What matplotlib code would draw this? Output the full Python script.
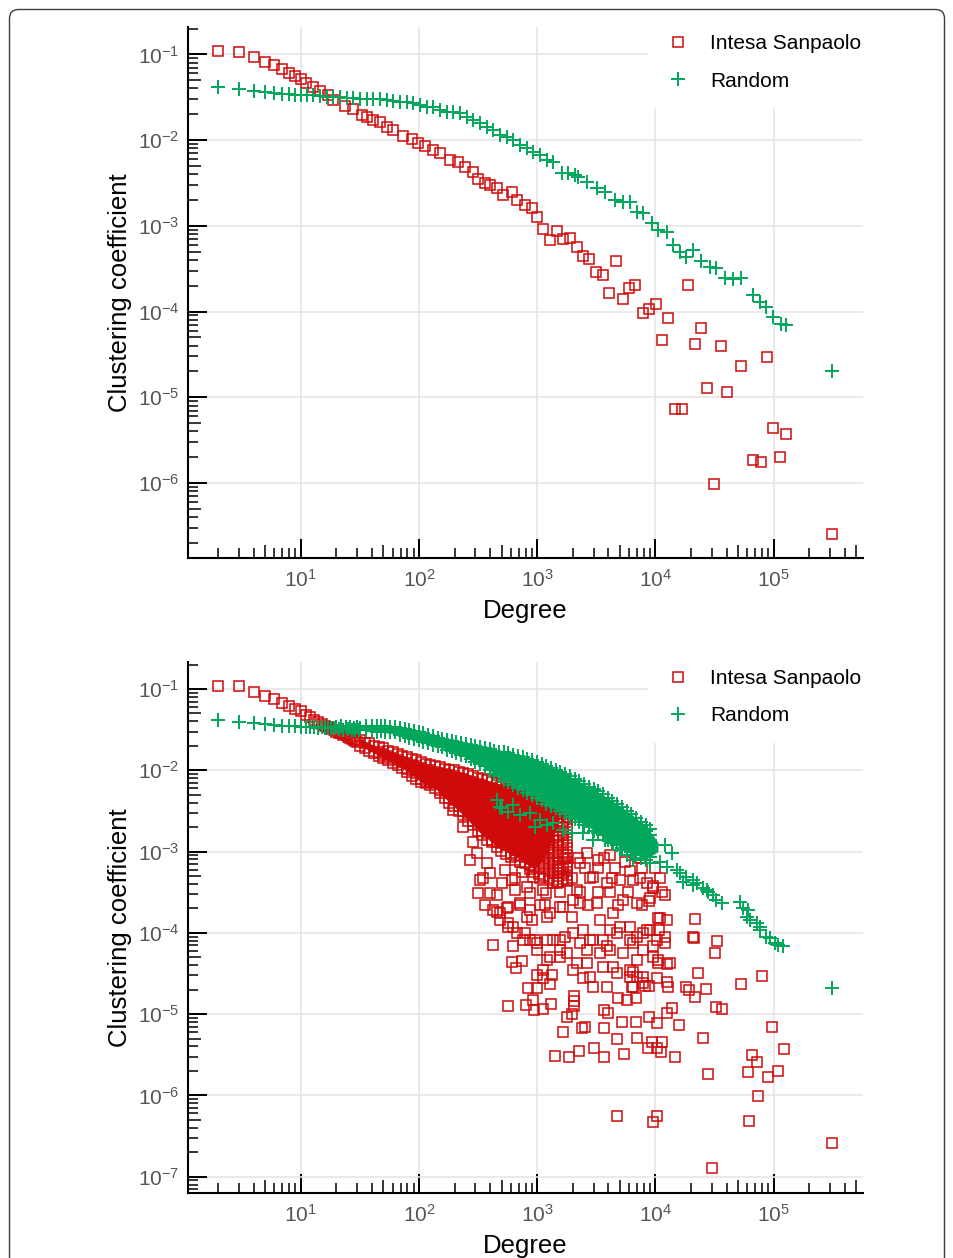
import matplotlib
matplotlib.use('Agg')
import matplotlib.pyplot as plt
from matplotlib import font_manager
from matplotlib.ticker import LogLocator, FixedLocator, LogFormatterMathtext, NullFormatter
from matplotlib.patches import FancyBboxPatch
from matplotlib.transforms import IdentityTransform

# ---------------------------------------------------------------- fonts
installed = {f.name for f in font_manager.fontManager.ttflist}
tick_font = 'Liberation Sans Narrow' if 'Liberation Sans Narrow' in installed else 'Liberation Sans'
tick_size = 17.5 if tick_font == 'Liberation Sans Narrow' else 15

plt.rcParams['font.family'] = ['Liberation Sans', 'DejaVu Sans']
plt.rcParams['mathtext.fontset'] = 'custom'
plt.rcParams['mathtext.rm'] = tick_font
plt.rcParams['mathtext.it'] = tick_font
plt.rcParams['mathtext.bf'] = tick_font
plt.rcParams['mathtext.sf'] = tick_font
plt.rcParams['mathtext.default'] = 'rm'

RED = '#cf0a0a'
GREEN = '#00a75b'

# ---------------------------------------------------------------- data, top panel (binned)
red1_deg = [2, 3, 4, 5, 6, 7, 8, 9, 10, 11, 12.8, 14.6, 17.1, 18.9, 23.7, 27.8, 32.8, 36.1, 41.1, 46.8,
            53.3, 60.7, 73.7, 86.7, 98.7, 112, 132, 150, 183, 215, 245, 288, 317, 361, 398, 454, 516, 608,
            670, 787, 897, 989, 1125, 1280, 1458, 1660, 1890, 2150, 2450, 2750, 3135, 3570, 4065, 4630,
            5270, 6000, 6700, 7780, 8850, 10080, 11270, 12800, 14600, 16630, 18900, 21550, 24500, 27500,
            31300, 35700, 40400, 52700, 67000, 77800, 87500, 98900, 112700, 128000, 314000]
red1_cc = [0.109, 0.107, 0.094, 0.082, 0.075, 0.067, 0.061, 0.056, 0.051, 0.046, 0.042, 0.037, 0.0335,
           0.029, 0.0249, 0.0228, 0.0196, 0.0184, 0.0171, 0.0164, 0.0141, 0.0131, 0.0111, 0.0102, 0.0093,
           0.0085, 0.0076, 0.0070, 0.00585, 0.00558, 0.00489, 0.00427, 0.00348, 0.00318, 0.00299,
           0.00278, 0.00228, 0.00245, 0.00200, 0.00175, 0.00160, 0.00127, 0.00093, 0.00069, 0.00087,
           0.00071, 0.00073, 0.00057, 4.43e-4, 4.12e-4, 2.86e-4, 2.66e-4, 1.63e-4, 3.91e-4, 1.41e-4,
           1.86e-4, 2.03e-4, 9.5e-5, 1.06e-4, 1.22e-4, 4.63e-5, 8.4e-5, 7.26e-6, 7.26e-6, 2.03e-4,
           4.17e-5, 6.4e-5, 1.27e-5, 9.7e-7, 3.95e-5, 1.14e-5, 2.32e-5, 1.83e-6, 1.76e-6, 2.94e-5,
           4.33e-6, 1.99e-6, 3.68e-6, 2.52e-7]

green1_deg = [2, 3, 4, 5, 6, 7, 8, 9, 10, 11.2, 12.8, 14.6, 16.6, 18.9, 21.5, 24.5, 27.8, 31.7, 36.1,
              41.1, 46.8, 53.3, 60.7, 69.1, 78.7, 89.6, 102, 116, 132, 150, 171, 195, 222, 253, 288,
              328, 373, 425, 484, 551, 627, 714, 812, 925, 1053, 1200, 1365, 1610, 1830, 2085, 2225,
              2620, 3180, 3730, 4540, 5330, 6080, 6920, 7880, 9270, 10550, 12400, 14130, 16080, 18300,
              20800, 24500, 28800, 32800, 38600, 45400, 53400, 67000, 76300, 86900, 98900, 116000,
              128000, 314000]
green1_cc = [0.0419, 0.0394, 0.0376, 0.0366, 0.0356, 0.0344, 0.0342, 0.034, 0.0335, 0.0335, 0.0335,
             0.0326, 0.0321, 0.0315, 0.0315, 0.0309, 0.0306, 0.0303, 0.0301, 0.0298, 0.0298, 0.0293,
             0.0287, 0.0280, 0.0275, 0.0268, 0.0256, 0.0245, 0.0241, 0.0224, 0.0214, 0.0214, 0.0205,
             0.0187, 0.0171, 0.0157, 0.0143, 0.0131, 0.0114, 0.0109, 0.0100, 0.0088, 0.0080, 0.0073,
             0.0067, 0.0058, 0.0056, 0.0041, 0.0041, 0.0039, 0.00373, 0.00326, 0.00273, 0.00249,
             0.00200, 0.00191, 0.00191, 0.00146, 0.00140, 0.00107, 0.00089, 0.00085, 0.00060, 0.00050,
             4.35e-4, 5.2e-4, 3.9e-4, 3.33e-4, 3.18e-4, 2.43e-4, 2.37e-4, 2.43e-4, 1.56e-4, 1.30e-4,
             1.13e-4, 8.7e-5, 7.1e-5, 6.9e-5, 2.03e-5]

# ---------------------------------------------------------------- data, bottom panel (all nodes)
red2_line_deg = list(range(2, 31))
red2_line_cc = [0.110, 0.109, 0.093, 0.083, 0.075, 0.068, 0.061, 0.056, 0.053, 0.048, 0.045, 0.042,
                0.039, 0.037, 0.035, 0.034, 0.032, 0.031, 0.030, 0.029, 0.0285, 0.027, 0.0272, 0.0258,
                0.025, 0.0245, 0.0238, 0.023, 0.0225]

# dense band: values read column by column
red2_band_deg = [32, 35, 38, 42, 46, 50, 55, 60, 66, 72, 79, 87, 95, 104, 114, 125, 137, 150, 165, 181,
                 198, 217, 238, 261, 286, 314, 344, 377, 413, 453, 497, 545, 597, 655, 718, 787, 863,
                 946, 1037, 1137, 1247, 1367, 1500, 1645, 1800]
red2_band_cc = [
    [0.0234, 0.0200],
    [0.0219, 0.0186],
    [0.0214, 0.0174],
    [0.0200, 0.0162],
    [0.0195, 0.0166, 0.0148],
    [0.0186, 0.0158, 0.0141],
    [0.0174, 0.0148, 0.0132],
    [0.0166, 0.0141, 0.0123],
    [0.0158, 0.0135, 0.0115],
    [0.0151, 0.0126, 0.0107],
    [0.0145, 0.0123, 0.0105, 0.0095],
    [0.0138, 0.0117, 0.0100, 0.0085],
    [0.0132, 0.0112, 0.0093, 0.0079],
    [0.0126, 0.0107, 0.0091, 0.0078, 0.0072],
    [0.0120, 0.0102, 0.0087, 0.0074, 0.0069],
    [0.0117, 0.0100, 0.0085, 0.0072, 0.0066],
    [0.0112, 0.0095, 0.0081, 0.0069, 0.0060],
    [0.0110, 0.0093, 0.0079, 0.0068, 0.0058, 0.0052],
    [0.0105, 0.0089, 0.0076, 0.0065, 0.0055, 0.0046],
    [0.0102, 0.0087, 0.0074, 0.0063, 0.0054, 0.0046, 0.0040],
    [0.0100, 0.0085, 0.0072, 0.0062, 0.0052, 0.0044, 0.0036],
    [0.0095, 0.0081, 0.0069, 0.0059, 0.0050, 0.0043, 0.0036, 0.0032],
    [0.0093, 0.0079, 0.0066, 0.0056, 0.0047, 0.0039, 0.0032, 0.0028],
    [0.0089, 0.0074, 0.0062, 0.0051, 0.0043, 0.0035, 0.0030, 0.0024],
    [0.0085, 0.0071, 0.0059, 0.0049, 0.0041, 0.0034, 0.0028, 0.0024, 0.0021],
    [0.0081, 0.0068, 0.0056, 0.0047, 0.0039, 0.0032, 0.0027, 0.0022, 0.0018],
    [0.0078, 0.0065, 0.0054, 0.0045, 0.0037, 0.0031, 0.0026, 0.0021, 0.0018, 0.0016],
    [0.0076, 0.0063, 0.0052, 0.0044, 0.0036, 0.0030, 0.0025, 0.0021, 0.0017, 0.0014],
    [0.0072, 0.0060, 0.0050, 0.0042, 0.0035, 0.0029, 0.0024, 0.0020, 0.0017, 0.0014, 0.0013],
    [0.0069, 0.0058, 0.0048, 0.0040, 0.0033, 0.0028, 0.0023, 0.0019, 0.0016, 0.0013, 0.00115],
    [0.0066, 0.0055, 0.0046, 0.0038, 0.0032, 0.0026, 0.0022, 0.0018, 0.0015, 0.00126, 0.00102],
    [0.0065, 0.0054, 0.0045, 0.0037, 0.0031, 0.0026, 0.0021, 0.0018, 0.0015, 0.0012, 0.00093],
    [0.0061, 0.0051, 0.0042, 0.0035, 0.0029, 0.0024, 0.0020, 0.0017, 0.0014, 0.00115, 0.00095, 0.00086],
    [0.0059, 0.0049, 0.0041, 0.0034, 0.0028, 0.0023, 0.0019, 0.0016, 0.0013, 0.0011, 0.00092, 0.00079],
    [0.0057, 0.0048, 0.0040, 0.0033, 0.0027, 0.0023, 0.0019, 0.0016, 0.0013, 0.0011, 0.00089, 0.00075],
    [0.0055, 0.0046, 0.0038, 0.0032, 0.0026, 0.0022, 0.0018, 0.0015, 0.00125, 0.00104, 0.00086, 0.00072],
    [0.0053, 0.0044, 0.0037, 0.0031, 0.0025, 0.0021, 0.0018, 0.0015, 0.0012, 0.0010, 0.00083, 0.00069,
     0.00061],
    [0.0050, 0.0042, 0.0035, 0.0029, 0.0024, 0.0020, 0.0017, 0.0014, 0.0012, 0.00097, 0.00081, 0.00067,
     0.00056],
    [0.0048, 0.0040, 0.0033, 0.0028, 0.0023, 0.0019, 0.0016, 0.0013, 0.0011, 0.00092, 0.00077, 0.00064,
     0.00053],
    [0.0046, 0.0038, 0.0032, 0.0026, 0.0022, 0.0018, 0.0015, 0.0013, 0.00105, 0.00088, 0.00073, 0.00061,
     0.00050],
    [0.0043, 0.0036, 0.0030, 0.0025, 0.0021, 0.0017, 0.0014, 0.0012, 0.0010, 0.00084, 0.00070, 0.00058,
     0.00047],
    [0.0041, 0.0034, 0.0028, 0.0024, 0.0020, 0.0016, 0.0014, 0.0011, 0.00095, 0.00079, 0.00066, 0.00055,
     0.00045],
    [0.0037, 0.0031, 0.0026, 0.0022, 0.0018, 0.0015, 0.0012, 0.0010, 0.00087, 0.00072, 0.00060, 0.00050,
     0.00042],
    [0.0035, 0.0029, 0.0024, 0.0020, 0.0017, 0.0014, 0.0012, 0.00096, 0.00080, 0.00066, 0.00055, 0.00046],
    [0.0033, 0.0027, 0.0023, 0.0019, 0.0016, 0.0013, 0.0011, 0.00090, 0.00075, 0.00062, 0.00052, 0.00043],
]

# region where the overlapping squares merge into solid colour: degree, lower and upper bound
red2_core_deg = [32, 50, 72, 104, 137, 181, 238, 314, 413, 545, 718, 946, 1137, 1367, 1600]
red2_core_lo = [0.0200, 0.0141, 0.0107, 0.0072, 0.0060, 0.0040, 0.0028, 0.0018, 0.0013, 0.0010,
                0.00080, 0.00062, 0.00080, 0.0015, 0.0030]
red2_core_hi = [0.0234, 0.0186, 0.0151, 0.0126, 0.0112, 0.0102, 0.0093, 0.0081, 0.0072, 0.0065,
                0.0057, 0.0050, 0.0046, 0.0041, 0.0036]

# scattered nodes around and below the band (degree, clustering)
red2_scatter = [
    (237, 2.02e-3), (288, 1.32e-3), (308, 9.5e-4), (373, 7.2e-4), (398, 5.4e-4), (500, 4.1e-4),
    (454, 1.82e-4), (569, 1.31e-4), (714, 2.31e-4), (670, 9.9e-5), (762, 8.2e-5), (989, 7.4e-5),
    (420, 7.0e-5), (565, 2.1e-4), (813, 1.58e-4), (195, 3.25e-3), (253, 3.74e-3), (425, 1.91e-4),
    (484, 1.74e-4), (627, 6.8e-5), (867, 8.2e-5), (1280, 1.74e-4), (1556, 2.1e-4), (2014, 2.54e-4),
    (813, 3.7e-4), (925, 4.9e-4), (1125, 3.37e-4), (1365, 4.1e-4), (1773, 4.5e-4), (2153, 3.37e-4),
    (2618, 9.5e-4), (3281, 7.9e-4), (4121, 9.1e-4), (5508, 7.5e-4), (6081, 5.7e-4), (9570, 3.54e-4),
    (12000, 2.92e-4), (21500, 1.47e-4), (20800, 8.8e-5), (33200, 8.0e-5), (31800, 5.6e-5),
    (2296, 7.2e-4), (2972, 4.9e-4), (3864, 4.1e-4), (5000, 4.5e-4), (6486, 4.5e-4), (8414, 4.1e-4),
    (5333, 2.54e-4), (6918, 2.31e-4), (8974, 2.67e-4), (10900, 1.51e-4), (12420, 1.44e-4),
    (4385, 1.74e-4), (6081, 1.19e-4), (7870, 9.9e-5), (10210, 8.2e-5), (12000, 7.4e-5), (1200, 8.2e-5),
    (1556, 6.2e-5), (2014, 9.9e-5), (2618, 6.2e-5), (3614, 8.2e-5), (4121, 6.2e-5), (6486, 7.4e-5),
    (9570, 6.8e-5), (10540, 4.2e-5), (13240, 4.2e-5), (867, 1.91e-4), (551, 2.0e-4), (627, 1.19e-4),
    (1200, 1.58e-4), (1660, 2.1e-4), (1954, 1.58e-4), (2296, 2.31e-4), (3177, 2.31e-4), (1459, 4.1e-4),
    (1773, 6.5e-4), (608, 4.4e-5), (738, 4.5e-5), (661, 3.67e-5), (569, 1.26e-5), (798, 1.30e-5),
    (938, 1.13e-5), (1111, 1.16e-5), (1306, 1.33e-5), (925, 1.50e-5), (830, 2.08e-5), (989, 2.08e-5),
    (1280, 2.35e-5), (989, 3.03e-5), (1125, 2.77e-5), (1324, 3.03e-5), (1773, 9.3e-6), (1954, 1.0e-5),
    (2055, 1.67e-5), (2055, 1.45e-5), (2055, 1.26e-5), (1640, 6.0e-6), (2373, 6.7e-6), (2530, 7.0e-6),
    (1412, 3.06e-6), (1865, 3.0e-6), (2265, 3.56e-6), (3013, 3.87e-6), (3683, 3.0e-6), (5433, 3.24e-6),
    (3664, 6.8e-6), (5164, 7.9e-6), (6792, 8.1e-6), (4690, 4.9e-6), (7000, 5.1e-6), (8850, 9.2e-6),
    (8670, 3.8e-6), (10210, 3.8e-6), (4745, 5.6e-7), (10210, 5.5e-7), (12420, 1.03e-5),
    (13680, 1.18e-5), (15670, 7.4e-6), (10210, 7.7e-6), (9380, 4.5e-6), (11270, 4.5e-6),
    (11040, 3.4e-6), (14590, 3.0e-6), (9450, 4.7e-7), (25300, 5.1e-6), (27900, 1.84e-6),
    (29800, 1.27e-7), (21200, 8.6e-5), (23100, 3.2e-5), (52400, 2.35e-5), (78900, 2.95e-5),
    (18300, 2.18e-5), (19150, 1.99e-5), (26500, 2.04e-5), (21500, 1.64e-5), (32400, 1.24e-5),
    (36200, 1.15e-5), (97000, 7.0e-6), (121700, 3.7e-6), (64900, 3.15e-6), (72400, 2.6e-6),
    (60800, 1.93e-6), (89700, 1.70e-6), (108900, 2.0e-6), (73800, 9.9e-7), (61600, 4.9e-7),
    (314000, 2.58e-7), (8790, 2.49e-4), (9450, 3.78e-4), (10540, 1.51e-4), (10740, 1.09e-4),
    (12000, 9.0e-5), (10420, 4.6e-5), (12480, 4.1e-5), (10210, 2.77e-5), (12420, 2.51e-5),
    (12800, 2.18e-5), (8130, 2.22e-5), (8850, 2.22e-5), (6280, 2.18e-5), (7870, 2.44e-5),
    (6486, 3.33e-5), (6918, 2.89e-5), (4840, 1.57e-5), (5700, 1.50e-5), (6830, 1.57e-5),
    (3683, 1.13e-5), (3981, 1.03e-5), (2449, 1.09e-4), (2790, 8.2e-5), (3388, 1.44e-4), (3864, 6.8e-5),
    (4690, 9.9e-5), (5333, 5.6e-5), (6081, 8.2e-5), (6918, 4.6e-5), (7870, 6.2e-5), (8974, 1.09e-4),
    (3614, 3.84e-5), (4690, 3.2e-5), (6081, 2.89e-5), (2790, 2.89e-5), (2153, 4.2e-5), (1773, 5.6e-5),
    (1556, 8.2e-5), (1280, 5.1e-5), (1125, 3.5e-5), (569, 1.19e-4), (787, 9.9e-5), (957, 8.2e-5),
    (989, 6.2e-5), (1365, 8.2e-5), (1714, 9.0e-5), (2296, 7.4e-5), (2972, 8.2e-5), (4121, 1.09e-4),
    (5000, 1.19e-4), (6918, 9.0e-5), (8414, 1.09e-4), (1200, 4.6e-5), (1556, 5.1e-5), (2014, 3.5e-5),
    (2618, 4.2e-5), (3388, 5.6e-5), (4385, 3.84e-5), (6081, 3.5e-5), (7870, 2.89e-5), (9570, 5.1e-5),
    (2449, 2.77e-5), (2972, 2.18e-5), (3864, 2.18e-5), (6486, 2.18e-5), (270, 7.9e-4), (328, 4.5e-4),
    (456, 2.92e-4), (533, 5.9e-4), (647, 3.37e-4), (1055, 2.2e-4), (611, 4.5e-4), (743, 5.6e-4),
    (1714, 8.3e-4), (2208, 8.3e-4), (3664, 8.3e-4), (7379, 8.3e-4), (1556, 6.3e-4), (2531, 6.3e-4),
    (3258, 6.3e-4), (4539, 6.3e-4), (7674, 6.3e-4), (9886, 6.3e-4), (1964, 4.7e-4), (2787, 4.7e-4),
    (4285, 4.7e-4), (7379, 4.7e-4), (10890, 4.7e-4), (1556, 3.2e-4), (2296, 3.2e-4), (3258, 3.2e-4),
    (4121, 3.2e-4), (5848, 3.2e-4), (11330, 3.2e-4), (2685, 2.2e-4), (4808, 2.2e-4), (7674, 2.2e-4),
    (348, 4.7e-4), (648, 4.7e-4), (1055, 4.7e-4), (315, 3.1e-4), (398, 3.1e-4), (867, 3.1e-4),
    (1186, 3.1e-4), (361, 2.2e-4), (714, 2.2e-4), (1161, 2.2e-4), (483, 1.44e-4), (902, 1.44e-4),
]

green2_line_deg = list(range(2, 33))
green2_line_cc = [0.0416, 0.0396, 0.0379, 0.0371, 0.0361, 0.0354, 0.0351, 0.0348, 0.0344, 0.0345,
                  0.034, 0.0342, 0.0336, 0.0338, 0.0333, 0.0336, 0.033, 0.0334, 0.034, 0.032, 0.035,
                  0.031, 0.034, 0.032, 0.0345, 0.031, 0.0335, 0.0315, 0.034, 0.031, 0.033]

green2_band_deg = [36, 40, 44, 48, 52, 57, 63, 69, 76, 83, 91, 100, 109, 120, 131, 144, 157, 173, 189,
                   207, 227, 249, 273, 300, 329, 360, 395, 433, 475, 521, 571, 626, 686, 752, 825, 905,
                   992, 1088, 1193, 1308, 1434, 1572, 1724, 1890, 2072, 2272, 2491, 2731, 2994, 3283,
                   3600, 3947, 4328, 4745, 5200, 5700, 6250, 6850, 7500, 8250, 9050]
green2_band_cc = [
    [0.0355, 0.0310],
    [0.0352, 0.0305],
    [0.0350, 0.0300],
    [0.0348, 0.0302],
    [0.0346, 0.0300],
    [0.0343, 0.0297],
    [0.0340, 0.0293],
    [0.0335, 0.0305, 0.0275],
    [0.0322, 0.0290, 0.0262],
    [0.0313, 0.0283, 0.0253],
    [0.0304, 0.0272, 0.0243],
    [0.0296, 0.0265, 0.0233],
    [0.0284, 0.0255, 0.0226],
    [0.0272, 0.0245, 0.0219],
    [0.0261, 0.0236, 0.0207],
    [0.0250, 0.0225, 0.0199],
    [0.0243, 0.0216, 0.0191],
    [0.0236, 0.0209, 0.0180],
    [0.0229, 0.0200, 0.0173],
    [0.0223, 0.0193, 0.0163],
    [0.0217, 0.0184, 0.0156],
    [0.0210, 0.0178, 0.0148],
    [0.0205, 0.0177, 0.0153, 0.0136],
    [0.0199, 0.0171, 0.0147, 0.0126],
    [0.0194, 0.0165, 0.0141, 0.0118],
    [0.0188, 0.0160, 0.0136, 0.0112],
    [0.0183, 0.0157, 0.0134, 0.0115, 0.0100],
    [0.0175, 0.0150, 0.0128, 0.0109, 0.0091],
    [0.0170, 0.0146, 0.0124, 0.0105, 0.0085],
    [0.0166, 0.0141, 0.0119, 0.0100, 0.0085, 0.0077],
    [0.0161, 0.0137, 0.0116, 0.0098, 0.0083, 0.0071],
    [0.0154, 0.0131, 0.0111, 0.0094, 0.0079, 0.0065],
    [0.0150, 0.0127, 0.0107, 0.0091, 0.0077, 0.0061],
    [0.0144, 0.0122, 0.0103, 0.0087, 0.0074, 0.0063, 0.0057],
    [0.0138, 0.0117, 0.0099, 0.0084, 0.0071, 0.0060, 0.0053],
    [0.0132, 0.0112, 0.0095, 0.0080, 0.0068, 0.0058, 0.0050],
    [0.0126, 0.0107, 0.0091, 0.0077, 0.0065, 0.0055, 0.0046],
    [0.0120, 0.0102, 0.0086, 0.0073, 0.0062, 0.0052, 0.0043],
    [0.0113, 0.0096, 0.0081, 0.0069, 0.0058, 0.0049, 0.0042, 0.0039],
    [0.0107, 0.0090, 0.0077, 0.0065, 0.0055, 0.0046, 0.0039, 0.0036],
    [0.0101, 0.0086, 0.0073, 0.0062, 0.0052, 0.0044, 0.0037, 0.0034],
    [0.0095, 0.0081, 0.0069, 0.0058, 0.0049, 0.0042, 0.0035, 0.0032],
    [0.0090, 0.0076, 0.0065, 0.0055, 0.0046, 0.0039, 0.0033, 0.0029],
    [0.0084, 0.0071, 0.0060, 0.0051, 0.0043, 0.0037, 0.0031, 0.0027],
    [0.0078, 0.0066, 0.0056, 0.0048, 0.0040, 0.0034, 0.0029, 0.0025],
    [0.0073, 0.0062, 0.0052, 0.0044, 0.0037, 0.0032, 0.0027, 0.0023],
    [0.0068, 0.0058, 0.0049, 0.0041, 0.0035, 0.0030, 0.0025, 0.0021],
    [0.0063, 0.0054, 0.0045, 0.0038, 0.0033, 0.0028, 0.0023, 0.0020],
    [0.0059, 0.0050, 0.0042, 0.0036, 0.0030, 0.0026, 0.0022, 0.0018],
    [0.0055, 0.0047, 0.0039, 0.0033, 0.0028, 0.0024, 0.0020, 0.0017],
    [0.0051, 0.0043, 0.0037, 0.0031, 0.0026, 0.0022, 0.0019, 0.0016],
    [0.0046, 0.0039, 0.0033, 0.0028, 0.0024, 0.0020, 0.0017, 0.0014],
    [0.0042, 0.0035, 0.0030, 0.0025, 0.0021, 0.0018, 0.0015, 0.0013],
    [0.0038, 0.0033, 0.0028, 0.0023, 0.0020, 0.0017, 0.0014, 0.0012],
    [0.0035, 0.0029, 0.0025, 0.0021, 0.0018, 0.0015, 0.0013, 0.0011],
    [0.0032, 0.0027, 0.0023, 0.0019, 0.0016, 0.0014, 0.0012, 0.00105],
    [0.0029, 0.0024, 0.0021, 0.0018, 0.0015, 0.0013, 0.0011, 0.00098],
    [0.0026, 0.0022, 0.0019, 0.0016, 0.0014, 0.0012, 0.0010, 0.00090],
    [0.0023, 0.0020, 0.0017, 0.0014, 0.0012, 0.00105, 0.00083],
    [0.0021, 0.0018, 0.0015, 0.0013, 0.0011, 0.00093, 0.00078],
    [0.0019, 0.0016, 0.0014, 0.0012, 0.0010, 0.00085, 0.00072],
]

green2_core_deg = [36, 69, 100, 144, 207, 300, 433, 626, 905, 1308, 1890, 2731, 3947, 5700, 8250, 10500]
green2_core_lo = [0.0310, 0.0275, 0.0233, 0.0199, 0.0163, 0.0126, 0.0091, 0.0065, 0.0050, 0.0036,
                  0.0027, 0.0020, 0.0014, 0.00105, 0.00080, 0.00100]
green2_core_hi = [0.0355, 0.0335, 0.0296, 0.0250, 0.0223, 0.0199, 0.0175, 0.0154, 0.0132, 0.0107,
                  0.0084, 0.0063, 0.0046, 0.0032, 0.0021, 0.0013]

green2_scatter_deg = [454, 500, 569, 484, 627, 714, 867, 957, 1055, 1200, 1365, 1660, 1954, 2449, 2972,
                      3733, 4385, 5000, 5700, 6486, 10890, 12000, 12420, 13680, 15070, 16080, 18300,
                      17140, 20800, 20800, 22250, 25300, 27040, 27900, 30740, 32800, 36200, 51650, 55100,
                      60800, 58900, 62800, 71600, 76400, 76400, 86900, 92700, 102100, 108900, 120000,
                      314000]
green2_scatter_cc = [4.3e-3, 3.41e-3, 3.1e-3, 3.56e-3, 3.74e-3, 2.82e-3, 2.96e-3, 2.02e-3, 2.45e-3,
                     2.12e-3, 2.23e-3, 1.84e-3, 1.68e-3, 1.68e-3, 1.39e-3, 1.39e-3, 1.26e-3, 1.05e-3,
                     9.1e-4, 7.9e-4, 7.5e-4, 1.21e-3, 6.5e-4, 9.5e-4, 5.9e-4, 5.4e-4, 4.9e-4, 4.27e-4,
                     4.5e-4, 3.9e-4, 4.1e-4, 3.54e-4, 3.37e-4, 3.21e-4, 2.92e-4, 2.54e-4, 2.31e-4,
                     2.42e-4, 2.02e-4, 1.91e-4, 1.58e-4, 1.44e-4, 1.31e-4, 1.18e-4, 1.09e-4, 9.0e-5,
                     8.6e-5, 7.4e-5, 7.1e-5, 6.8e-5, 2.08e-5]

x_major = [1e1, 1e2, 1e3, 1e4, 1e5]
y_major_top = [1e-6, 1e-5, 1e-4, 1e-3, 1e-2, 1e-1]
y_major_bottom = [1e-7, 1e-6, 1e-5, 1e-4, 1e-3, 1e-2, 1e-1]
x_fives = [5, 50, 500, 5e3, 5e4, 5e5]
y_fives = [5e-2, 5e-3, 5e-4, 5e-5, 5e-6, 5e-7]


def columns(deg, cols):
    xs, ys = [], []
    for d, vals in zip(deg, cols):
        xs += [d] * len(vals)
        ys += vals
    return xs, ys


band_d, band_c = columns(red2_band_deg, red2_band_cc)
red2_deg = red2_line_deg + band_d + [p[0] for p in red2_scatter]
red2_cc = red2_line_cc + band_c + [p[1] for p in red2_scatter]

gband_d, gband_c = columns(green2_band_deg, green2_band_cc)
green2_deg = green2_line_deg + gband_d + green2_scatter_deg
green2_cc = green2_line_cc + gband_c + green2_scatter_cc

SQ = dict(ls='none', marker='s', ms=7.0, mfc='none', mec=RED, mew=1.1)
PL = dict(ls='none', marker='+', ms=10.5, mec=GREEN, mew=1.4)


# ---------------------------------------------------------------- drawing
def panel(ax, rd, rc, gd, gc, ylim, y_major, red_core=None, green_core=None):
    # where thousands of nodes overlap the original shows solid colour
    if red_core is not None:
        ax.fill_between(red_core[0], red_core[1], red_core[2], color=RED, lw=0, zorder=1.9)
    ax.plot(rd, rc, label='Intesa Sanpaolo', zorder=2.0, **SQ)
    if green_core is not None:
        ax.fill_between(green_core[0], green_core[1], green_core[2], color=GREEN, lw=0, zorder=2.05)
    ax.plot(gd, gc, label='Random', zorder=2.1, **PL)

    ax.set_xscale('log')
    ax.set_yscale('log')
    ax.set_xlim(1.114, 5.69e5)
    ax.set_ylim(*ylim)

    ax.xaxis.set_major_locator(FixedLocator(x_major))
    ax.yaxis.set_major_locator(FixedLocator(y_major))
    for axis in (ax.xaxis, ax.yaxis):
        axis.set_minor_locator(LogLocator(base=10, subs=(2, 3, 4, 6, 7, 8, 9), numticks=15))
        axis.set_major_formatter(LogFormatterMathtext())
        axis.set_minor_formatter(NullFormatter())

    ax.tick_params(which='major', direction='in', length=13.7, width=1.45, color='black',
                   labelsize=tick_size, labelcolor='#555555')
    ax.tick_params(which='minor', direction='in', length=7, width=1.1, color='black')
    ax.tick_params(axis='x', pad=8)
    ax.tick_params(axis='y', pad=6)

    for s in ('top', 'right'):
        ax.spines[s].set_visible(False)
    for s in ('left', 'bottom'):
        ax.spines[s].set_linewidth(1.5)

    ax.grid(True, which='major', color='#e6e6e6', linewidth=1.2)
    ax.set_axisbelow(True)

    # slightly longer ticks at the 5 x 10^n positions
    sx = ax.secondary_xaxis('bottom')
    sx.set_ticks(x_fives)
    sx.tick_params(which='both', direction='in', labelbottom=False)
    sx.tick_params(which='major', length=9.5, width=1.1)
    sx.tick_params(which='minor', length=0)
    for sp in sx.spines.values():
        sp.set_visible(False)
    sy = ax.secondary_yaxis('left')
    sy.set_ticks(y_fives)
    sy.tick_params(which='both', direction='in', labelleft=False)
    sy.tick_params(which='major', length=9.5, width=1.1)
    sy.tick_params(which='minor', length=0)
    for sp in sy.spines.values():
        sp.set_visible(False)

    ax.set_xlabel('Degree', fontsize=18.5)
    ax.xaxis.set_label_coords(0.5, -0.077)
    ax.set_ylabel('Clustering coefficient', fontsize=18.5)
    ax.yaxis.set_label_coords(-0.083, 0.5)

    ax.legend(loc='upper right', bbox_to_anchor=(1.0228, 1.0189), borderaxespad=0, fontsize=15,
              frameon=True, fancybox=False, edgecolor='none', facecolor='white', framealpha=1,
              borderpad=0.83, handlelength=1.21, handletextpad=0.93, labelspacing=0.88, numpoints=1)


fig = plt.figure(figsize=(9.54, 12.58), dpi=100)
ax1 = fig.add_axes([188 / 954, 1 - 558 / 1258, 675 / 954, 531 / 1258])
ax2 = fig.add_axes([188 / 954, 1 - 1192.7 / 1258, 675 / 954, 531 / 1258])

panel(ax1, red1_deg, red1_cc, green1_deg, green1_cc, (1.333e-7, 0.2085), y_major_top)
panel(ax2, red2_deg, red2_cc, green2_deg, green2_cc, (6.35e-8, 0.2168), y_major_bottom,
      red_core=(red2_core_deg, red2_core_lo, red2_core_hi),
      green_core=(green2_core_deg, green2_core_lo, green2_core_hi))

# rounded outer frame of the figure panel
frame = FancyBboxPatch((9.5, -20), 935, 1268.5, boxstyle='round,pad=0,rounding_size=9',
                       transform=IdentityTransform(), fill=False, edgecolor='#3c3c3c', linewidth=1.0)
fig.add_artist(frame)

fig.savefig('out.png', dpi=100)
